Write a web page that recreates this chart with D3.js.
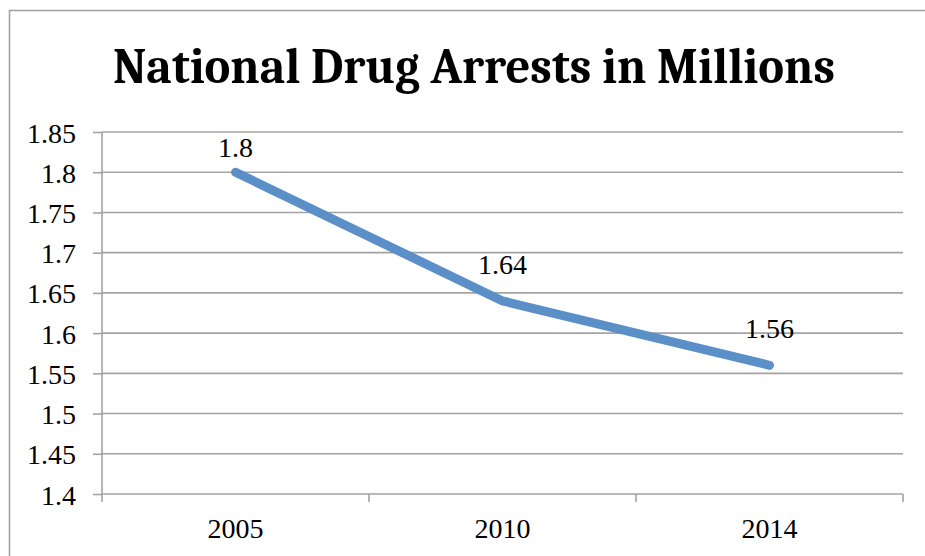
<!DOCTYPE html>
<html>
<head>
<meta charset="utf-8">
<script src="https://cdn.jsdelivr.net/npm/d3@7"></script>
<style>
  html, body { margin: 0; padding: 0; background: #ffffff; }
  svg { display: block; }
</style>
</head>
<body>
<div id="chart"></div>
<script>
const title = "National Drug Arrests in Millions";
const categories = ["2005", "2010", "2014"];
const values = [1.8, 1.64, 1.56];
const valueLabels = ["1.8", "1.64", "1.56"];
const yTicks = [1.4, 1.45, 1.5, 1.55, 1.6, 1.65, 1.7, 1.75, 1.8, 1.85];
const yTickLabels = ["1.4", "1.45", "1.5", "1.55", "1.6", "1.65", "1.7", "1.75", "1.8", "1.85"];

const W = 925, H = 556;
const plot = { left: 102, right: 903, top: 132, bottom: 494 };
const gridColor = "#a3a3a3";
const lineColor = "#5b8fc8";
const titleFont = "Cambria, Caladea, 'Liberation Serif', serif";
const serif = "'Liberation Serif', 'DejaVu Serif', serif";
const labelSize = 28;

const svg = d3.select("#chart").append("svg")
  .attr("width", W).attr("height", H);

svg.append("rect").attr("width", W).attr("height", H).attr("fill", "#fff");

// outer chart border (extends beyond the cropped right/bottom edges)
svg.append("rect")
  .attr("x", 9.5).attr("y", 10.5)
  .attr("width", 960).attr("height", 600)
  .attr("fill", "none").attr("stroke", gridColor).attr("stroke-width", 1.6);

// title
svg.append("text")
  .attr("x", 474).attr("y", 83)
  .attr("text-anchor", "middle")
  .attr("font-family", titleFont)
  .attr("font-weight", "bold")
  .attr("font-size", 51)
  .attr("fill", "#000")
  .attr("textLength", 722).attr("lengthAdjust", "spacingAndGlyphs")
  .text(title);

const x = d3.scalePoint().domain(categories).range([plot.left, plot.right]).padding(0.5);
const xb = d3.scaleBand().domain(categories).range([plot.left, plot.right]).padding(0);
const y = d3.scaleLinear().domain([1.4, 1.85]).range([plot.bottom, plot.top]);

// gridlines
svg.append("g").selectAll("line").data(yTicks.slice(1)).join("line")
  .attr("x1", plot.left).attr("x2", plot.right)
  .attr("y1", d => y(d)).attr("y2", d => y(d))
  .attr("stroke", gridColor).attr("stroke-width", 1.6);

// y axis
const yAxis = d3.axisLeft(y)
  .tickValues(yTicks)
  .tickFormat((d, i) => yTickLabels[i])
  .tickSize(9)
  .tickPadding(17);
const gy = svg.append("g").attr("transform", `translate(${plot.left},0)`).call(yAxis);
gy.select(".domain").remove();
gy.selectAll(".tick line").attr("stroke", gridColor).attr("stroke-width", 1.6);
gy.selectAll(".tick text")
  .attr("font-family", serif).attr("font-size", labelSize).attr("fill", "#000")
  .attr("dy", "0.36em");
svg.append("line")
  .attr("x1", plot.left).attr("x2", plot.left)
  .attr("y1", plot.top).attr("y2", plot.bottom + 8)
  .attr("stroke", gridColor).attr("stroke-width", 1.6);

// x axis
svg.append("line")
  .attr("x1", plot.left).attr("x2", plot.right)
  .attr("y1", plot.bottom).attr("y2", plot.bottom)
  .attr("stroke", gridColor).attr("stroke-width", 1.6);
svg.append("g").selectAll("line").data(categories).join("line")
  .attr("x1", d => xb(d) + xb.bandwidth()).attr("x2", d => xb(d) + xb.bandwidth())
  .attr("y1", plot.bottom).attr("y2", plot.bottom + 8)
  .attr("stroke", gridColor).attr("stroke-width", 1.6);
svg.append("g").selectAll("text").data(categories).join("text")
  .attr("x", d => x(d)).attr("y", plot.bottom + 44)
  .attr("text-anchor", "middle")
  .attr("font-family", serif).attr("font-size", labelSize).attr("fill", "#000")
  .text(d => d);

// line
const data = categories.map((c, i) => ({ c, v: values[i], label: valueLabels[i] }));
svg.append("path").datum(data)
  .attr("d", d3.line().x(d => x(d.c)).y(d => y(d.v)))
  .attr("fill", "none").attr("stroke", lineColor)
  .attr("stroke-width", 9).attr("stroke-linecap", "round").attr("stroke-linejoin", "round");

// data labels (kept inside the plot area)
svg.append("g").selectAll("text").data(data).join("text")
  .attr("x", d => x(d.c))
  .attr("y", d => Math.max(y(d.v) - 27, plot.top + 25))
  .attr("text-anchor", "middle")
  .attr("font-family", serif).attr("font-size", labelSize).attr("fill", "#000")
  .text(d => d.label);
</script>
</body>
</html>
